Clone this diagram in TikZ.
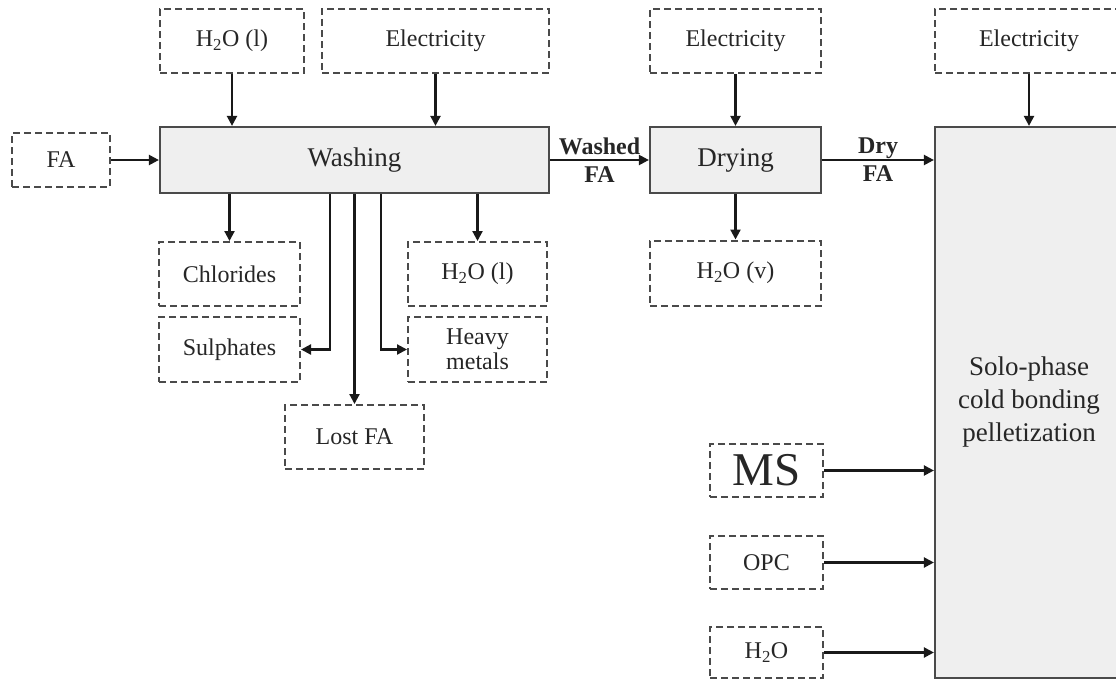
\documentclass[tikz,border=0pt]{standalone}
\usepackage{fontspec}
\setmainfont{Liberation Serif}
\usetikzlibrary{arrows.meta}
\definecolor{boxline}{HTML}{4A4A4A}
\definecolor{boxfill}{HTML}{EFEFEF}
\definecolor{txt}{HTML}{262626}
\tikzset{
  dbox/.style={draw=boxline, line width=2pt, dash pattern=on 7pt off 4pt, inner sep=0pt,
     text=txt, font=\fontsize{24}{27}\selectfont, align=center},
  pbox/.style={draw=boxline, fill=boxfill, line width=2.2pt, inner sep=0pt, text=txt,
     font=\fontsize{27}{33}\selectfont, align=center},
  arr/.style={draw=black!90, line width=2.2pt, -{Triangle[length=10pt,width=10pt]}},
  flowlbl/.style={font=\bfseries\fontsize{24}{28}\selectfont, text=txt, align=center, inner sep=0pt}
}
\begin{document}
\begin{tikzpicture}[x=1pt,y=-1pt]
\useasboundingbox (0,0) rectangle (1116,680);
% process boxes
\node[pbox, minimum width=389, minimum height=66] (washing) at (354.5,160) {Washing};
\node[pbox, minimum width=171, minimum height=66] (drying) at (735.5,160) {Drying};
\node[pbox, minimum width=188, minimum height=551] (pellet) at (1029,402.5) {Solo-phase\\cold bonding\\pelletization};
% input/output boxes
\node[dbox, minimum width=98, minimum height=54] (fa) at (61,160) {FA};
\node[dbox, minimum width=144, minimum height=64] (h2oin) at (232,41) {H\textsubscript{2}O (l)};
\node[dbox, minimum width=227, minimum height=64] (elec1) at (435.5,41) {Electricity};
\node[dbox, minimum width=171, minimum height=64] (elec2) at (735.5,41) {Electricity};
\node[dbox, minimum width=188, minimum height=64] (elec3) at (1029,41) {Electricity};
\node[dbox, minimum width=141, minimum height=64] (chlor) at (229.5,274) {Chlorides};
\node[dbox, minimum width=139, minimum height=64] (h2oout) at (477.5,274) {H\textsubscript{2}O (l)};
\node[dbox, minimum width=141, minimum height=65] (sulph) at (229.5,349.5) {Sulphates};
\node[dbox, minimum width=139, minimum height=65, font=\fontsize{24}{25}\selectfont] (heavy) at (477.5,349.5) {Heavy\\metals};
\node[dbox, minimum width=139, minimum height=64] (lost) at (354.5,437) {Lost FA};
\node[dbox, minimum width=171, minimum height=65] (h2ov) at (735.5,273) {H\textsubscript{2}O (v)};
\node[dbox, minimum width=113, minimum height=53, font=\fontsize{47}{50}\selectfont] (ms) at (766.5,470.5) {MS};
\node[dbox, minimum width=113, minimum height=53] (opc) at (766.5,562.5) {OPC};
\node[dbox, minimum width=113, minimum height=51] (h2ob) at (766.5,652.5) {H\textsubscript{2}O};
% connectors
\draw[arr] (fa.east) -- (washing.west);
\draw[arr] (h2oin.south) -- (h2oin.south |- washing.north);
\draw[arr] (elec1.south) -- (elec1.south |- washing.north);
\draw[arr] (washing.east) -- node[flowlbl] {Washed\\FA} (drying.west);
\draw[arr] (elec2.south) -- (drying.north);
\draw[arr] (drying.east) -- node[flowlbl] {Dry\\FA} (drying.east -| pellet.west);
\draw[arr] (elec3.south) -- (pellet.north);
\draw[arr] (drying.south) -- (h2ov.north);
\draw[arr] (chlor.north |- washing.south) -- (chlor.north);
\draw[arr] (h2oout.north |- washing.south) -- (h2oout.north);
\draw[arr] ([xshift=-24.5pt]washing.south) |- (sulph.east);
\draw[arr] ([xshift=26.5pt]washing.south) |- (heavy.west);
\draw[arr] (washing.south) -- (lost.north);
\draw[arr] (ms.east) -- (ms.east -| pellet.west);
\draw[arr] (opc.east) -- (opc.east -| pellet.west);
\draw[arr] (h2ob.east) -- (h2ob.east -| pellet.west);
\end{tikzpicture}
\end{document}
